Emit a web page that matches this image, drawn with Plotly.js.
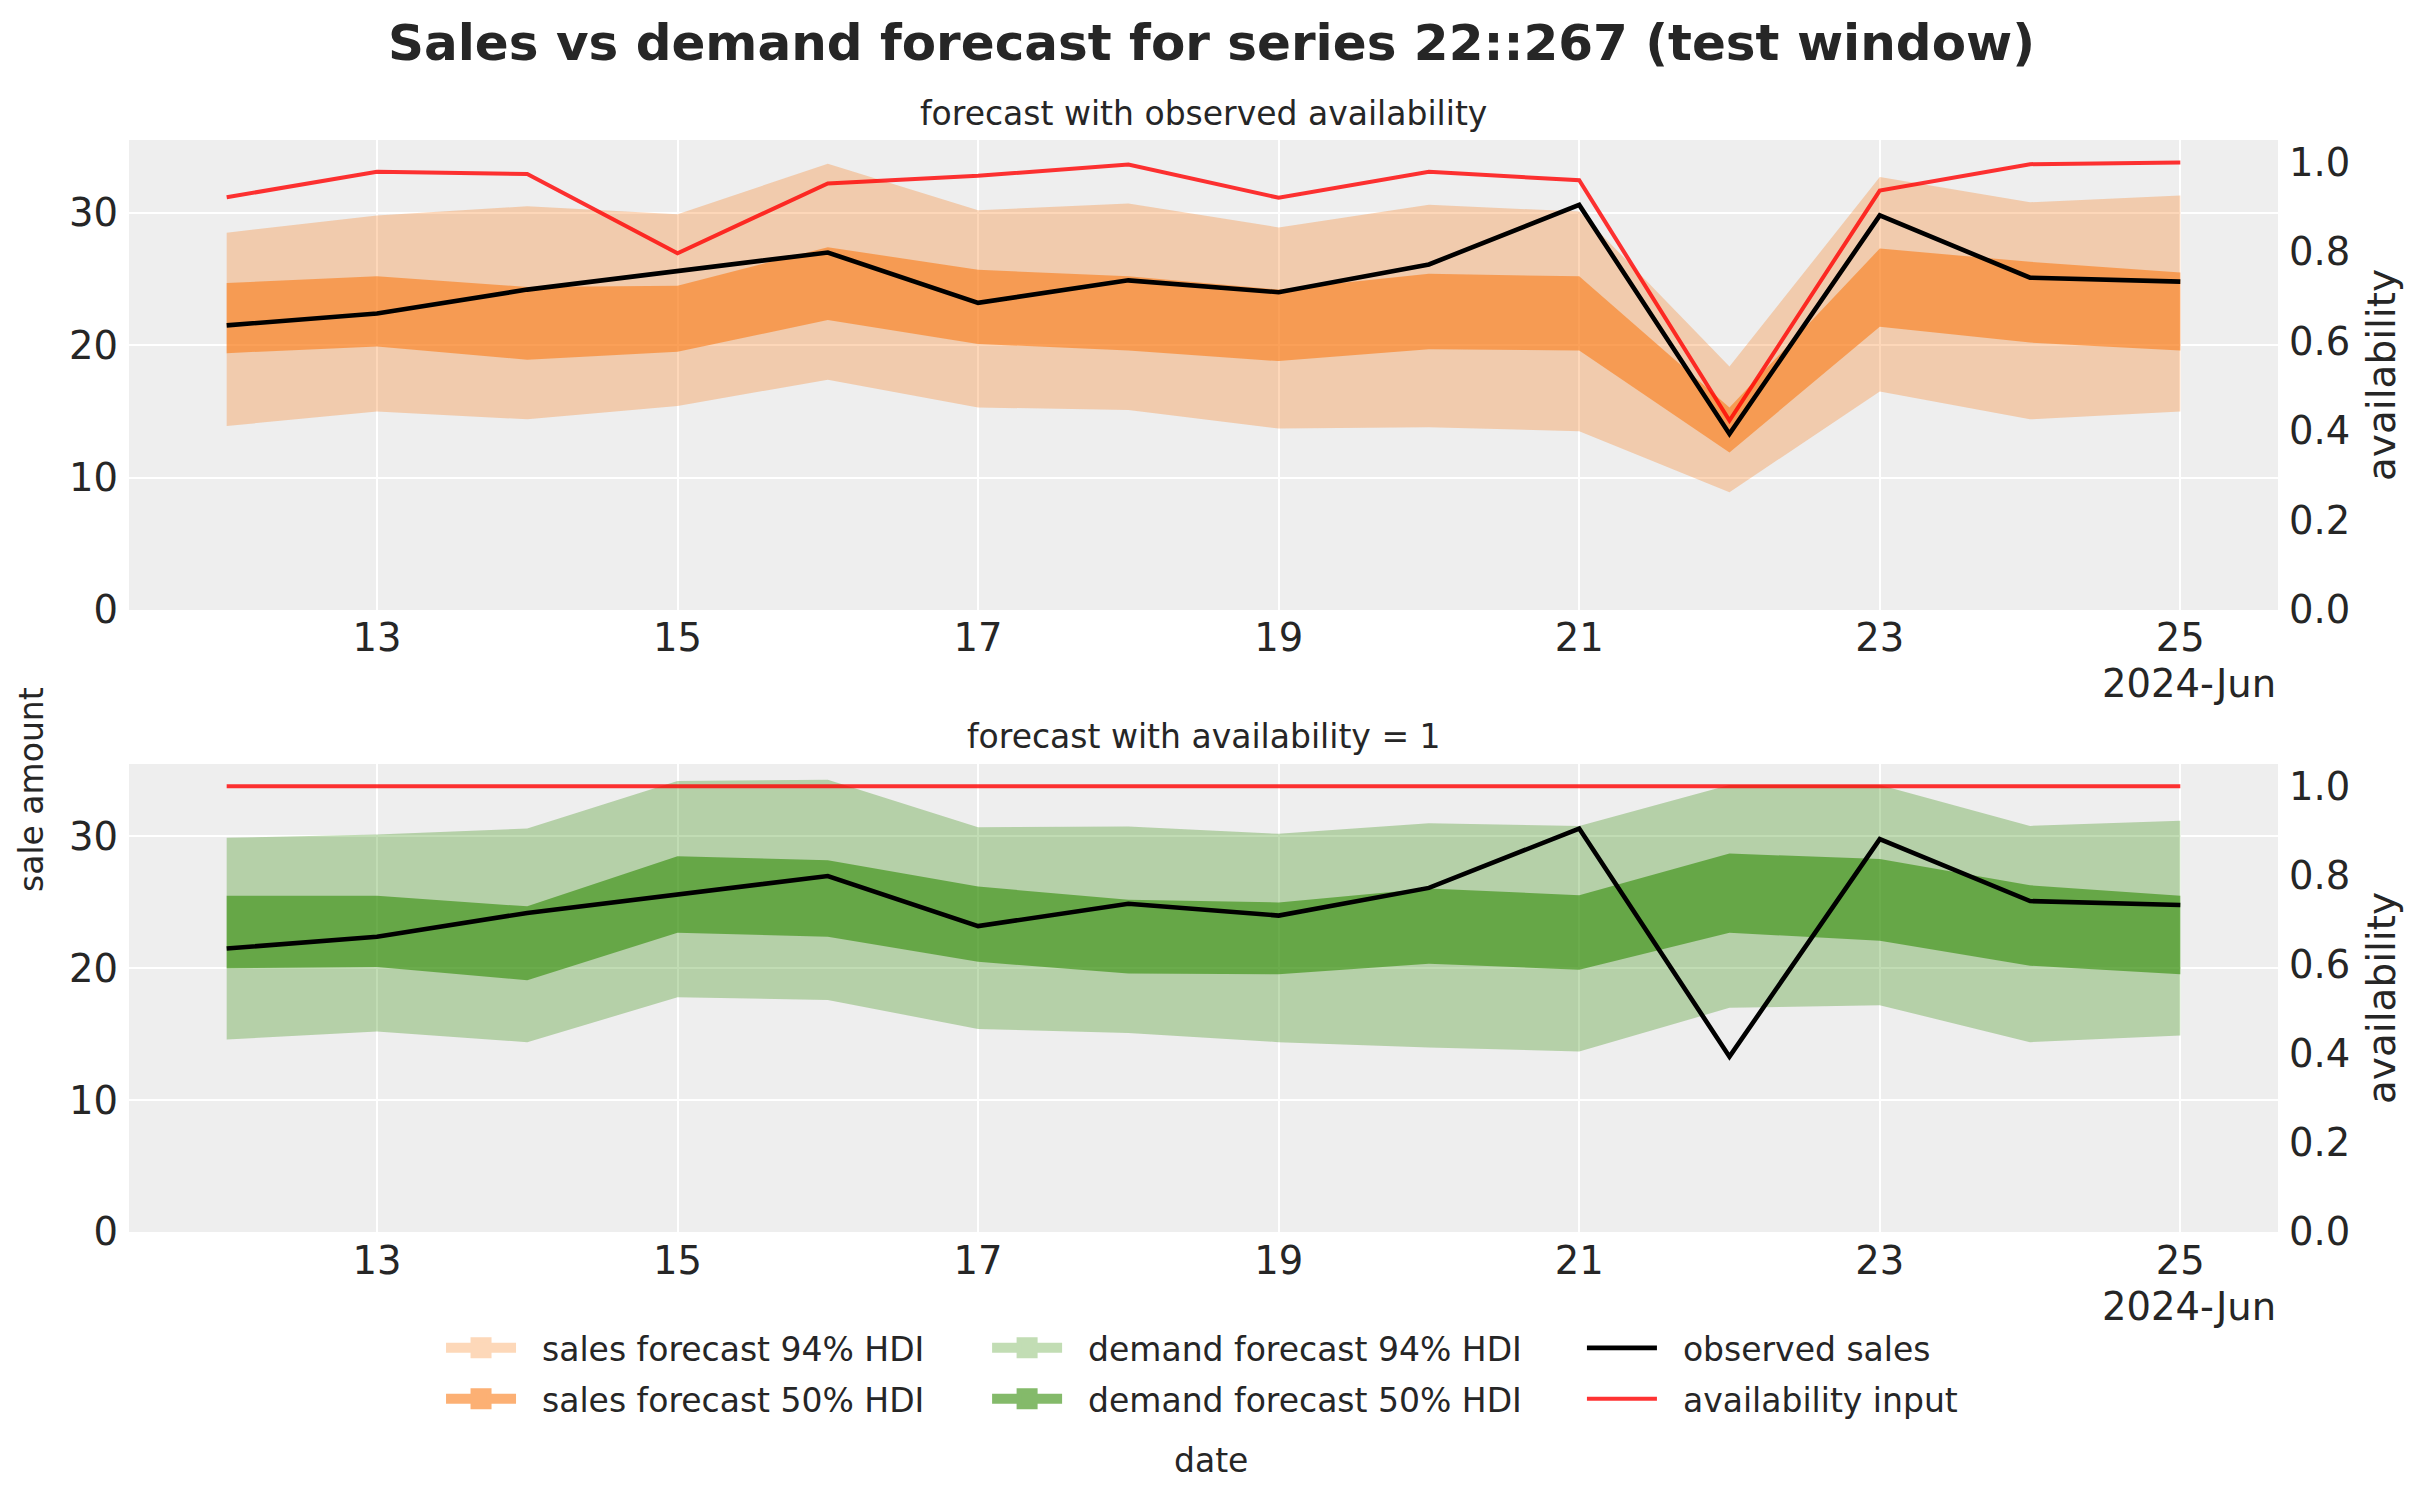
<!DOCTYPE html>
<html>
<head>
<meta charset="utf-8">
<title>Sales vs demand forecast</title>
<script src="https://cdn.plot.ly/plotly-3.0.1.min.js"></script>
<style>
    html, body { margin: 0; padding: 0; background: #ffffff; }
    #chart { width: 2423px; height: 1501px; }
</style>
</head>
<body>
<div id="chart"></div>
<script>
// test window, one point per day
const dates = [
    '2024-06-12', '2024-06-13', '2024-06-14', '2024-06-15', '2024-06-16', '2024-06-17', '2024-06-18',
    '2024-06-19', '2024-06-20', '2024-06-21', '2024-06-22', '2024-06-23', '2024-06-24', '2024-06-25'
];

const observedSales = [21.5, 22.4, 24.2, 25.6, 27.0, 23.2, 24.9, 24.0, 26.1, 30.6, 13.3, 29.8, 25.1, 24.8];
const observedAvailability = [0.922, 0.979, 0.974, 0.797, 0.953, 0.970, 0.995, 0.921, 0.979, 0.960, 0.423, 0.937, 0.996, 1.000];
const fullAvailability = [1, 1, 1, 1, 1, 1, 1, 1, 1, 1, 1, 1, 1, 1];

// sales forecast (observed availability)
const salesLow94 = [13.9, 15.0, 14.4, 15.4, 17.4, 15.3, 15.1, 13.7, 13.8, 13.5, 8.9, 16.5, 14.4, 15.0];
const salesHigh94 = [28.5, 29.8, 30.5, 29.9, 33.7, 30.2, 30.7, 28.9, 30.6, 30.1, 18.4, 32.7, 30.8, 31.3];
const salesLow50 = [19.4, 19.9, 18.9, 19.5, 21.9, 20.1, 19.6, 18.8, 19.7, 19.6, 11.9, 21.4, 20.2, 19.6];
const salesHigh50 = [24.7, 25.2, 24.4, 24.5, 27.4, 25.7, 25.2, 24.2, 25.4, 25.2, 15.3, 27.3, 26.3, 25.5];

// demand forecast (availability = 1)
const demandLow94 = [14.6, 15.2, 14.4, 17.8, 17.6, 15.4, 15.1, 14.4, 14.0, 13.7, 17.0, 17.2, 14.4, 14.9];
const demandHigh94 = [29.9, 30.15, 30.6, 34.2, 34.3, 30.7, 30.75, 30.2, 31.0, 30.8, 33.9, 33.9, 30.8, 31.2];
const demandLow50 = [20.0, 20.1, 19.1, 22.7, 22.4, 20.5, 19.6, 19.55, 20.35, 19.9, 22.7, 22.1, 20.2, 19.55];
const demandHigh50 = [25.5, 25.5, 24.7, 28.5, 28.2, 26.2, 25.2, 25.0, 26.05, 25.55, 28.7, 28.3, 26.3, 25.5];

const xTicks = ['2024-06-13', '2024-06-15', '2024-06-17', '2024-06-19', '2024-06-21', '2024-06-23', '2024-06-25'];
const xTickText = ['13', '15', '17', '19', '21', '23', '25'];
const saleTicks = [0, 10, 20, 30];
const availTicks = [0, 0.2, 0.4, 0.6, 0.8, 1.0];

const ORANGE = '250, 124, 23';
const GREEN = '50, 140, 6';
const TEXT = '#262626';
const FONT = 'DejaVu Sans';
const TICK_SIZE = 38.5;
const GAP = '\u00a0\u00a0'; // room between legend symbol and label

function band(low, high, rgb, alpha, xa, ya) {
    return [
        { x: dates, y: low, xaxis: xa, yaxis: ya, mode: 'lines', line: { width: 0 },
          showlegend: false, hoverinfo: 'skip' },
        { x: dates, y: high, xaxis: xa, yaxis: ya, mode: 'lines', line: { width: 0 },
          fill: 'tonexty', fillcolor: `rgba(${rgb}, ${alpha})`, showlegend: false, hoverinfo: 'skip' }
    ];
}

// legend-only entry standing in for a filled band (colour as it looks on white)
function patch(name, color, legend) {
    return {
        x: [null], y: [null], mode: 'lines+markers', name: GAP + name, legend: legend, legendgroup: name,
        line: { color: color, width: 23 },
        marker: { symbol: 'square', size: 16, color: color, line: { width: 5, color: color } }
    };
}

const traces = [
    ...band(salesLow94, salesHigh94, ORANGE, 0.3, 'x', 'y'),
    ...band(salesLow50, salesHigh50, ORANGE, 0.6, 'x', 'y'),
    { x: dates, y: observedSales, xaxis: 'x', yaxis: 'y', mode: 'lines', name: GAP + 'observed sales',
      line: { color: '#000000', width: 4.6 }, legend: 'legend3', legendgroup: 'obs' },
    { x: dates, y: observedAvailability, xaxis: 'x', yaxis: 'y2', mode: 'lines', name: GAP + 'availability input',
      line: { color: 'rgba(255, 0, 0, 0.8)', width: 4 }, legend: 'legend3', legendgroup: 'avail' },

    ...band(demandLow94, demandHigh94, GREEN, 0.3, 'x2', 'y3'),
    ...band(demandLow50, demandHigh50, GREEN, 0.6, 'x2', 'y3'),
    { x: dates, y: observedSales, xaxis: 'x2', yaxis: 'y3', mode: 'lines', showlegend: false,
      line: { color: '#000000', width: 4.6 } },
    { x: dates, y: fullAvailability, xaxis: 'x2', yaxis: 'y4', mode: 'lines', showlegend: false,
      line: { color: 'rgba(255, 0, 0, 0.8)', width: 4 } },

    patch('sales forecast 94% HDI', '#FDD8B9', 'legend'),
    patch('sales forecast 50% HDI', '#FCB074', 'legend'),
    patch('demand forecast 94% HDI', '#C2DDB4', 'legend2'),
    patch('demand forecast 50% HDI', '#84BA6A', 'legend2')
];

const xRange = ['2024-06-11 08:24', '2024-06-25 15:36'];

function xAxis(anchor) {
    return {
        anchor: anchor, type: 'date', range: xRange,
        tickvals: xTicks, ticktext: xTickText, ticks: '', ticklabelstandoff: 2,
        tickfont: { family: FONT, size: TICK_SIZE, color: TEXT },
        showgrid: true, gridcolor: '#ffffff', gridwidth: 2,
        zeroline: false, showline: false
    };
}

function saleAxis(domain) {
    return {
        domain: domain, range: [0, 35.5], tickvals: saleTicks, ticks: '',
        tickfont: { family: FONT, size: TICK_SIZE, color: TEXT }, ticklabelstandoff: 10,
        showgrid: true, gridcolor: '#ffffff', gridwidth: 2,
        zeroline: false, showline: false
    };
}

function availAxis(over) {
    return {
        overlaying: over, side: 'right', range: [0, 1.05], tickvals: availTicks, tickformat: '.1f',
        ticks: '', tickfont: { family: FONT, size: TICK_SIZE, color: TEXT }, ticklabelstandoff: 10,
        showgrid: false, zeroline: false, showline: false,
        title: { text: 'availability', font: { family: FONT, size: 39, color: TEXT }, standoff: 18 }
    };
}

function legendBox(x) {
    return {
        orientation: 'v', x: x, y: -0.0805, xanchor: 'left', yanchor: 'top',
        font: { family: FONT, size: 33, color: TEXT }, bgcolor: 'rgba(0,0,0,0)',
        itemwidth: 70, tracegroupgap: 5
    };
}

const labelFont = { family: FONT, size: 33, color: TEXT };
const offsetFont = { family: FONT, size: TICK_SIZE, color: TEXT };

const layout = {
    width: 2423, height: 1501,
    margin: { l: 129, r: 145, t: 140, b: 269 },
    paper_bgcolor: '#ffffff', plot_bgcolor: '#EEEEEE',
    font: { family: FONT, color: TEXT },
    title: {
        text: 'Sales vs demand forecast for series 22::267 (test window)',
        font: { family: FONT, size: 50, weight: 'bold', color: TEXT },
        xref: 'container', x: 0.5, xanchor: 'center', yref: 'container', y: 0.972, yanchor: 'middle'
    },
    xaxis: xAxis('y'),
    yaxis: saleAxis([0.5696, 1]),
    yaxis2: availAxis('y'),
    xaxis2: xAxis('y3'),
    yaxis3: saleAxis([0, 0.4286]),
    yaxis4: availAxis('y3'),
    legend: legendBox(0.1452),
    legend2: legendBox(0.3993),
    legend3: legendBox(0.6761),
    annotations: [
        { text: 'forecast with observed availability', xref: 'paper', x: 0.5, yref: 'y domain', y: 1,
          yanchor: 'middle', yshift: 27, showarrow: false, font: labelFont },
        { text: 'forecast with availability = 1', xref: 'paper', x: 0.5, yref: 'y3 domain', y: 1,
          yanchor: 'middle', yshift: 27, showarrow: false, font: labelFont },
        { text: '2024-Jun', xref: 'x domain', x: 1, xanchor: 'right', yref: 'y domain', y: 0,
          yanchor: 'middle', yshift: -74, showarrow: false, font: offsetFont },
        { text: '2024-Jun', xref: 'x2 domain', x: 1, xanchor: 'right', yref: 'y3 domain', y: 0,
          yanchor: 'middle', yshift: -74, showarrow: false, font: offsetFont },
        { text: 'sale amount', xref: 'paper', x: -0.0451, xanchor: 'center', yref: 'paper', y: 0.4048,
          yanchor: 'middle', textangle: -90, showarrow: false, font: labelFont },
        { text: 'date', xref: 'paper', x: 0.5035, xanchor: 'center', yref: 'paper', y: -0.2088,
          yanchor: 'middle', showarrow: false, font: labelFont }
    ]
};

Plotly.newPlot('chart', traces, layout, { displayModeBar: false, responsive: false });
</script>
</body>
</html>
